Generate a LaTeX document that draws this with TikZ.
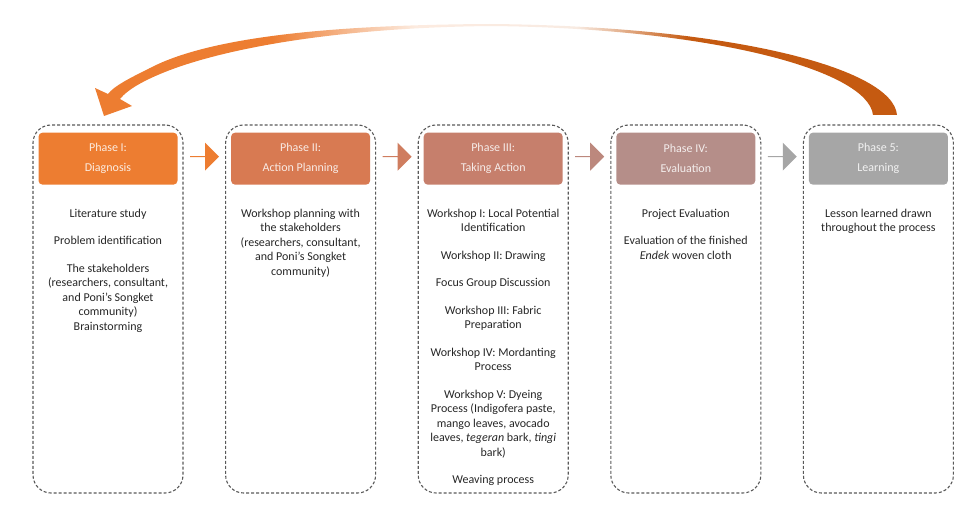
\documentclass[tikz,border=0pt]{standalone}
\usepackage{fontspec}
\setmainfont{Carlito}
\usepackage{xcolor}
\usepackage{tikz}
\usetikzlibrary{positioning, shapes.arrows, calc}
\definecolor{phaseA}{HTML}{ED7D31}
\definecolor{phaseB}{HTML}{D87A52}
\definecolor{phaseC}{HTML}{C67F6C}
\definecolor{phaseD}{HTML}{B58E89}
\definecolor{phaseE}{HTML}{A6A6A6}
\definecolor{loopdark}{HTML}{C55A11}
\definecolor{frameline}{HTML}{595959}
\definecolor{bodytext}{HTML}{262626}
\pgfdeclarehorizontalshading{loopfade}{100bp}{color(0bp)=(phaseA); color(36bp)=(phaseA); color(45bp)=(phaseA!15); color(55bp)=(loopdark!12); color(62bp)=(loopdark); color(100bp)=(loopdark)}

\begin{document}
\begin{tikzpicture}[x=1pt, y=-1pt, node distance=8pt,
      every node/.style={font=\fontsize{12}{14.5}\selectfont},
      frame/.style={draw=frameline, dash pattern=on 3pt off 2pt, line width=1.1pt, rounded corners=18pt, minimum width=150pt, minimum height=368pt},
      head/.style={fill=#1, rounded corners=4pt, minimum width=139pt, minimum height=52pt, align=center, text=white!85!#1, font=\fontsize{12}{20}\selectfont},
      body/.style={align=center, text=bodytext, inner sep=0pt},
      chev/.style={single arrow, fill=#1, minimum height=29pt, minimum width=28pt, single arrow head extend=6pt, inner sep=0pt}]
    \useasboundingbox (0,0) rectangle (977,516);
    % feedback loop from learning back to diagnosis
    \shade[shading=loopfade] (897,115) .. controls (893,68) and (730,26) .. (490,24)
      .. controls (300,25) and (200,42) .. (150,68) .. controls (130,78) and (114,86) .. (108,94)
      -- (95,88) -- (104,116) -- (132,106) -- (120,99)
      .. controls (128,89) and (145,80) .. (165,72) .. controls (215,52) and (320,28) .. (490,26)
      .. controls (710,28) and (868,70) .. (873,115) -- cycle;
    % phase frames
    \node[frame] (f1) at (108,309) {};
    \node[frame, right=41.5pt of f1] (f2) {};
    \node[frame, right=41.5pt of f2] (f3) {};
    \node[frame, right=41.5pt of f3] (f4) {};
    \node[frame, right=41.5pt of f4] (f5) {};
    \node[head=phaseA, below=of f1.north] (h1) {Phase I:\\Diagnosis};
    \node[head=phaseB, below=of f2.north] (h2) {Phase II:\\Action Planning};
    \node[head=phaseC, below=of f3.north] (h3) {Phase III:\\Taking Action};
    \node[head=phaseD, below=of f4.north] (h4) {Phase IV:\\Evaluation};
    \node[head=phaseE, below=of f5.north] (h5) {Phase 5:\\Learning};
    \node[body, below=24pt of h1] (t1) {Literature study\\[13pt]
      Problem identification\\[13pt]
      The stakeholders\\(researchers, consultant,\\and Poni’s Songket\\community)\\Brainstorming};
    \node[body, below=24pt of h2] (t2) {Workshop planning with\\the stakeholders\\(researchers, consultant,\\and Poni’s Songket\\community)};
    \node[body, below=24pt of h3] (t3) {Workshop I: Local Potential\\Identification\\[13pt]
      Workshop II: Drawing\\[13pt]
      Focus Group Discussion\\[13pt]
      Workshop III: Fabric\\Preparation\\[13pt]
      Workshop IV: Mordanting\\Process\\[13pt]
      Workshop V: Dyeing\\Process (Indigofera paste,\\mango leaves, avocado\\leaves, \textit{tegeran} bark, \textit{tingi}\\bark)\\[13pt]
      Weaving process};
    \node[body, below=24pt of h4] (t4) {Project Evaluation\\[13pt]
      Evaluation of the finished\\\textit{Endek} woven cloth};
    \node[body, below=24pt of h5] (t5) {Lesson learned drawn\\throughout the process};
    % step arrows
    \node[chev=phaseA] (a1) at ($(h1.east)!0.5!(h2.west)+(0,-2)$) {};
    \node[chev=phaseB!50!phaseC] (a2) at ($(h2.east)!0.5!(h3.west)+(0,-2)$) {};
    \node[chev=phaseC!40!phaseD] (a3) at ($(h3.east)!0.5!(h4.west)+(0,-2)$) {};
    \node[chev=phaseE] (a4) at ($(h4.east)!0.5!(h5.west)+(0,-2)$) {};
  \end{tikzpicture}
\end{document}
